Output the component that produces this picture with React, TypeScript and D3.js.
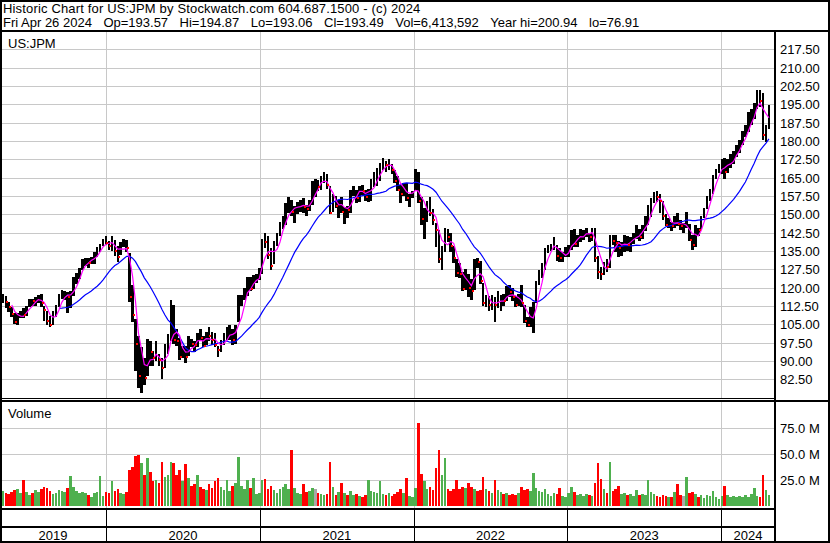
import React from "react";
import * as d3 from "d3";

const W = 830;
const H = 543;

const headerLine1 = "Historic Chart for US:JPM by Stockwatch.com 604.687.1500 - (c) 2024";
const headerFields = [
  "Fri Apr 26 2024",
  "Op=193.57",
  "Hi=194.87",
  "Lo=193.06",
  "Cl=193.49",
  "Vol=6,413,592",
  "Year hi=200.94",
  "lo=76.91",
];
const symbolLabel = "US:JPM";
const volumeLabel = "Volume";

const priceTicks = [82.5, 90, 97.5, 105, 112.5, 120, 127.5, 135, 142.5, 150, 157.5, 165, 172.5, 180, 187.5, 195, 202.5, 210, 217.5];
const volumeTicks = [25, 50, 75]; // millions of shares
const yearLabels = ["2019", "2020", "2021", "2022", "2023", "2024"];

// Weekly bars, first week ends Fri May 3 2019, last week ends Fri Apr 26 2024
const weeklyHigh = [
  // 2019
  117.5, 116.5, 114.0, 112.0, 109.5, 109.5, 110.5, 111.5, 112.5, 115.5, 115.5, 116.0, 117.0, 117.5, 112.5, 110.5, 108.5, 110.5, 112.8, 117.2, 119.0, 118.5, 118.0, 118.5, 124.5, 126.0, 128.0, 131.5, 132.0, 132.0, 132.5, 134.5, 136.5, 138.0, 140.0,
  // 2020
  141.1, 139.0, 141.0, 139.5, 137.0, 138.5, 140.0, 139.5, 134.0, 121.0, 107.0, 100.0, 95.5, 91.0, 99.0, 98.0, 94.0, 98.0, 93.0, 91.0, 97.0, 101.0, 115.0, 113.0, 103.0, 99.5, 96.0, 96.0, 100.0, 99.0, 98.0, 101.5, 103.0, 100.0, 102.0, 104.0, 102.0, 101.5, 96.0, 98.5, 101.5, 104.0, 104.5, 103.0, 104.5, 117.0, 117.0, 120.0, 124.5, 124.5, 125.0, 125.5,
  // 2021
  128.0, 140.0, 142.5, 141.0, 136.0, 139.0, 142.5, 147.0, 149.5, 154.5, 157.0, 156.0, 153.5, 155.0, 156.0, 156.5, 154.0, 156.0, 163.5, 164.5, 164.0, 165.5, 167.5, 166.5, 161.5, 158.5, 157.5, 156.0, 157.0, 153.0, 153.5, 160.0, 161.5, 160.0, 161.5, 162.0, 160.0, 160.5, 164.5, 167.5, 169.0, 171.0, 172.9, 172.0, 172.5, 170.5, 168.0, 165.5, 162.0, 163.0, 163.0, 158.5, 159.5,
  // 2022
  168.5, 167.5, 157.0, 152.5, 155.5, 157.0, 152.0, 146.5, 143.5, 137.0, 144.5, 144.0, 142.5, 137.0, 131.5, 130.0, 126.5, 127.5, 125.5, 123.5, 131.5, 132.0, 131.0, 122.0, 117.0, 116.5, 117.0, 116.0, 118.5, 117.0, 117.5, 120.5, 121.0, 120.0, 116.5, 117.5, 121.0, 113.0, 108.0, 112.0, 114.0, 122.5, 127.0, 130.0, 136.0, 137.5, 138.0, 140.5, 137.5, 136.0, 134.5, 136.5,
  // 2023
  137.5, 143.5, 144.0, 141.5, 144.0, 143.5, 144.5, 142.5, 144.5, 144.5, 133.0, 128.5, 130.5, 131.5, 141.5, 141.5, 141.5, 139.0, 138.5, 141.5, 141.0, 140.5, 142.5, 145.5, 144.0, 145.8, 149.5, 154.0, 156.5, 159.0, 159.5, 158.5, 155.5, 150.0, 148.5, 147.0, 149.5, 150.5, 147.5, 146.5, 151.0, 146.0, 141.5, 145.5, 144.5, 149.5, 152.5, 157.5, 160.5, 166.0, 168.5, 170.7,
  // 2024
  172.5, 173.0, 172.5, 174.5, 176.0, 178.5, 180.5, 184.0, 186.5, 192.0, 193.0, 195.5, 200.9, 200.7, 199.5, 186.5, 194.9,
];

const weeklyLow = [
  // 2019
  113.8, 111.5, 110.0, 108.0, 105.0, 104.5, 107.5, 107.5, 108.5, 112.0, 112.5, 112.5, 113.5, 112.0, 106.5, 104.5, 104.0, 104.5, 108.0, 112.0, 115.5, 115.0, 109.5, 111.5, 116.5, 121.5, 123.5, 127.0, 129.0, 128.0, 129.5, 129.5, 132.5, 134.5, 137.0,
  // 2020
  137.5, 135.5, 135.0, 133.0, 130.5, 133.5, 136.5, 134.5, 114.0, 106.0, 86.0, 79.0, 76.9, 80.0, 84.0, 88.0, 88.0, 90.0, 88.0, 82.5, 87.0, 93.0, 98.0, 97.0, 96.0, 90.5, 91.0, 89.0, 92.0, 95.5, 93.5, 95.5, 98.5, 95.5, 96.5, 98.0, 96.5, 95.5, 91.5, 93.5, 96.5, 98.5, 98.5, 96.5, 97.0, 106.0, 112.5, 115.0, 116.5, 118.5, 119.5, 122.0,
  // 2021
  123.0, 125.5, 136.0, 131.5, 127.0, 129.5, 137.0, 141.0, 144.0, 145.5, 150.5, 149.5, 146.5, 150.0, 151.0, 150.5, 149.5, 151.5, 154.0, 157.0, 159.5, 160.0, 163.0, 160.5, 150.0, 151.0, 152.5, 148.5, 150.5, 146.0, 148.5, 150.5, 157.5, 154.5, 155.0, 158.0, 155.5, 155.0, 155.5, 161.0, 161.5, 163.5, 168.0, 167.5, 168.0, 166.5, 163.0, 159.5, 154.5, 157.5, 155.5, 153.0, 156.5,
  // 2022
  159.5, 154.5, 145.5, 140.0, 147.0, 149.5, 145.5, 136.5, 130.0, 127.3, 134.5, 138.5, 134.5, 130.0, 124.5, 124.0, 118.5, 119.0, 116.0, 115.0, 119.0, 128.0, 121.5, 112.5, 112.0, 110.5, 111.0, 106.1, 111.5, 110.5, 112.5, 114.5, 116.0, 114.5, 112.0, 112.5, 112.0, 105.5, 104.0, 104.0, 101.3, 113.5, 121.0, 124.0, 127.0, 134.0, 135.0, 135.5, 131.0, 130.5, 130.5, 132.5,
  // 2023
  132.5, 135.5, 136.5, 136.5, 138.5, 139.5, 140.5, 138.5, 139.0, 130.5, 123.5, 123.0, 125.0, 126.5, 128.0, 137.5, 134.5, 132.5, 133.0, 134.5, 135.0, 134.5, 138.0, 140.0, 139.0, 140.0, 143.0, 145.5, 149.0, 154.5, 155.0, 150.5, 147.5, 145.0, 144.5, 143.0, 144.5, 145.0, 143.5, 142.5, 144.5, 139.0, 135.2, 136.5, 141.0, 143.5, 148.5, 152.0, 155.5, 158.5, 164.5, 167.0,
  // 2024
  166.5, 164.5, 167.0, 169.0, 170.5, 173.5, 175.0, 178.5, 181.5, 183.5, 186.5, 189.0, 193.0, 194.0, 180.5, 179.5, 185.0,
];

const weeklyClose = [
  // 2019
  116.5, 114.0, 112.2, 109.0, 106.0, 108.8, 109.5, 108.6, 111.8, 114.8, 114.5, 114.6, 116.4, 113.7, 110.9, 106.2, 104.6, 109.9, 112.0, 116.6, 117.4, 117.6, 116.0, 117.0, 122.9, 125.4, 127.4, 131.0, 131.7, 130.0, 131.7, 134.0, 135.3, 137.6, 139.7,
  // 2020
  138.3, 137.0, 138.5, 135.0, 132.4, 137.5, 138.0, 136.0, 116.0, 108.7, 97.0, 84.0, 90.0, 83.0, 95.0, 93.5, 91.0, 91.5, 90.5, 87.0, 94.0, 97.3, 113.5, 98.5, 98.0, 91.5, 93.5, 91.5, 98.5, 97.0, 96.6, 100.5, 99.5, 96.0, 100.5, 100.0, 98.5, 96.5, 94.5, 97.0, 100.5, 101.5, 103.0, 98.5, 103.5, 114.0, 115.0, 118.5, 124.0, 119.5, 123.5, 124.5,
  // 2021
  127.1, 139.0, 138.5, 133.5, 128.7, 138.0, 142.0, 145.0, 147.2, 152.0, 154.0, 151.0, 153.0, 153.5, 155.0, 153.0, 152.0, 153.8, 163.0, 163.0, 161.0, 164.3, 166.0, 162.0, 150.5, 157.0, 153.5, 154.5, 151.0, 152.0, 151.8, 159.5, 160.5, 156.5, 161.0, 159.5, 157.0, 159.0, 163.5, 164.0, 168.0, 168.5, 171.5, 170.0, 170.5, 168.0, 163.5, 160.0, 158.5, 162.0, 156.5, 157.5, 158.4,
  // 2022
  166.5, 155.5, 148.0, 150.5, 153.5, 150.5, 147.5, 143.5, 131.5, 135.0, 143.0, 140.5, 137.0, 132.0, 126.0, 125.5, 119.5, 125.0, 120.0, 118.5, 131.0, 130.5, 122.5, 113.5, 114.5, 113.0, 114.5, 113.0, 115.0, 115.4, 114.5, 119.5, 118.0, 116.0, 113.0, 116.5, 113.5, 106.5, 104.5, 108.0, 111.5, 122.0, 126.5, 128.5, 135.5, 136.5, 137.5, 138.5, 133.0, 132.0, 133.5, 134.1,
  // 2023
  137.0, 143.0, 138.0, 140.5, 142.0, 142.5, 143.0, 140.5, 144.0, 132.0, 126.5, 125.5, 130.3, 128.5, 140.5, 139.0, 138.2, 136.0, 136.5, 140.5, 137.5, 139.5, 141.0, 143.5, 140.5, 145.4, 148.0, 150.5, 156.0, 157.5, 157.0, 155.5, 149.5, 145.5, 146.5, 145.0, 148.5, 146.0, 145.0, 145.0, 146.0, 139.5, 137.5, 144.0, 143.5, 148.5, 151.5, 157.0, 159.5, 164.5, 167.5, 170.1,
  // 2024
  171.0, 167.5, 171.5, 172.5, 175.0, 177.5, 179.0, 183.0, 184.0, 190.0, 191.5, 193.5, 200.3, 196.5, 182.5, 185.5, 193.5,
];

// Peak daily volume within each week, millions
const weeklyVolume = [
  // 2019
  15, 13, 12, 14, 16, 17, 13, 25, 14, 11, 13, 16, 14, 17, 19, 18, 15, 12, 13, 16, 15, 14, 18, 29, 19, 15, 13, 14, 13, 11, 9, 13, 14, 29, 10,
  // 2020
  14, 13, 24, 15, 17, 13, 12, 14, 35, 38, 48, 49, 42, 30, 46, 33, 24, 25, 22, 43, 28, 30, 43, 42, 30, 35, 24, 41, 27, 20, 21, 30, 19, 17, 16, 21, 18, 24, 27, 19, 16, 25, 15, 20, 22, 47, 20, 17, 25, 18, 27, 12,
  // 2021
  13, 25, 26, 17, 20, 16, 13, 17, 19, 21, 17, 54, 18, 13, 12, 21, 14, 15, 18, 17, 13, 12, 11, 12, 43, 19, 11, 14, 22, 13, 11, 15, 11, 12, 10, 9, 11, 25, 15, 14, 13, 24, 12, 11, 13, 10, 12, 14, 17, 13, 27, 10, 9,
  // 2022
  18, 80, 31, 24, 17, 19, 16, 37, 54, 30, 46, 17, 15, 17, 25, 17, 19, 18, 22, 19, 17, 15, 16, 28, 17, 15, 13, 25, 16, 14, 12, 13, 11, 12, 11, 13, 19, 16, 17, 15, 32, 18, 15, 14, 17, 12, 10, 13, 12, 18, 10, 9,
  // 2023
  13, 19, 14, 11, 12, 10, 12, 11, 10, 22, 42, 26, 17, 13, 43, 15, 17, 20, 12, 13, 11, 12, 10, 16, 11, 12, 11, 25, 14, 12, 10, 9, 11, 10, 9, 9, 14, 21, 11, 10, 28, 13, 14, 12, 9, 11, 8, 11, 10, 15, 9, 7,
  // 2024
  10, 19.5, 11, 9, 10, 9, 10, 9, 11, 9, 12, 18, 10, 9, 30, 16, 11,
];

const FONT = "'Liberation Sans', Arial, sans-serif";

const plotRight = 775;
const priceTop = 32;
const priceBottom = 399;
const volTop = 402;
const volBottom = 508;

const UP = "#4fb04f";
const DOWN = "#ff0000";
const FLAT = "#a8a8a8";
const GRID = "#c8c8c8";

function sma(values: number[], n: number): (number | null)[] {
  return values.map((_, i) => (i < n - 1 ? null : (d3.mean(values.slice(i - n + 1, i + 1)) as number)));
}

export default function App() {
  const start = new Date(Date.UTC(2019, 3, 26));
  const end = new Date(Date.UTC(2024, 3, 26));
  const x = d3.scaleUtc().domain([start, end]).range([0.8, 769.8]);
  const y = d3.scaleLinear().domain([74.5, 224.5]).range([398.8, 32.2]);
  const yv = d3.scaleLinear().domain([0, 100]).range([506.3, 402.3]);

  const firstMid = new Date(Date.UTC(2019, 4, 1));
  const weeks = weeklyClose.map((c, i) => ({
    date: d3.utcDay.offset(firstMid, 7 * i),
    hi: weeklyHigh[i],
    lo: weeklyLow[i],
    cl: c,
    vol: weeklyVolume[i],
    dir: i === 0 ? 1 : Math.sign(c - weeklyClose[i - 1]),
  }));

  const fast = sma(weeklyClose, 4);
  const slow = sma(weeklyClose, 20);
  const maLine = (vals: (number | null)[]) =>
    d3
      .line<number | null>()
      .defined((v) => v !== null)
      .x((_, i) => x(weeks[i].date))
      .y((v) => y(v as number))(vals) || "";

  const yearBounds = yearLabels.slice(1).map((yr) => x(new Date(Date.UTC(+yr, 0, 1))));
  const edges = [0, ...yearBounds, plotRight];

  const snap = (v: number) => Math.round(v) + 0.5;

  return (
    <svg
      width={W}
      height={H}
      viewBox={`0 0 ${W} ${H}`}
      style={{ position: "absolute", left: 0, top: 0, display: "block", background: "#fff" }}
      fontFamily={FONT}
    >
      <defs>
        <clipPath id="priceClip">
          <rect x={1} y={priceTop} width={plotRight - 1} height={priceBottom - priceTop} />
        </clipPath>
        <clipPath id="volClip">
          <rect x={1} y={volTop} width={plotRight - 1} height={volBottom - volTop} />
        </clipPath>
      </defs>
      <rect x={0} y={0} width={W} height={H} fill="#fff" />

      {/* grid lines */}
      <g stroke={GRID} strokeWidth={1} shapeRendering="crispEdges">
        {priceTicks.map((t) => (
          <line key={"pg" + t} x1={1} x2={plotRight} y1={snap(y(t))} y2={snap(y(t))} />
        ))}
        {yearBounds.map((bx, i) => (
          <line key={"pv" + i} x1={snap(bx)} x2={snap(bx)} y1={priceTop} y2={priceBottom} />
        ))}
        {volumeTicks.map((t) => (
          <line key={"vg" + t} x1={1} x2={plotRight} y1={snap(yv(t))} y2={snap(yv(t))} />
        ))}
        {yearBounds.map((bx, i) => (
          <line key={"vv" + i} x1={snap(bx)} x2={snap(bx)} y1={volTop} y2={volBottom} />
        ))}
      </g>

      {/* volume bars */}
      <g clipPath="url(#volClip)" shapeRendering="crispEdges">
        {weeks.map((d, i) => (
          <rect
            key={"v" + i}
            x={x(d.date) - 1.3}
            width={2.6}
            y={yv(d.vol)}
            height={yv(0) - yv(d.vol)}
            fill={d.dir > 0 ? UP : d.dir < 0 ? DOWN : FLAT}
          />
        ))}
      </g>

      {/* price bars and averages */}
      <g clipPath="url(#priceClip)">
        <g shapeRendering="crispEdges">
          {weeks.map((d, i) => (
            <rect key={"b" + i} x={x(d.date) - 1.3} width={2.6} y={y(d.hi)} height={y(d.lo) - y(d.hi)} fill="#000" />
          ))}
        </g>
        <path d={maLine(slow)} fill="none" stroke="#0000ff" strokeWidth={1.2} />
        <path d={maLine(fast)} fill="none" stroke="#ff00ff" strokeWidth={1.2} />
        <g shapeRendering="crispEdges">
          {weeks
            .filter((d) => d.dir < 0)
            .map((d, i) => (
              <rect key={"c" + i} x={x(d.date) + 0.3} width={2} y={y(d.cl) - 1} height={2} fill={DOWN} />
            ))}
        </g>
      </g>

      {/* frame */}
      <g stroke="#000" fill="none" shapeRendering="crispEdges">
        <rect x={1} y={1} width={W - 2} height={H - 2} strokeWidth={2} />
        <line x1={0} x2={W} y1={31} y2={31} strokeWidth={2} />
        <line x1={plotRight} x2={plotRight} y1={31} y2={H} strokeWidth={2} />
        <line x1={0} x2={plotRight} y1={398.5} y2={398.5} strokeWidth={1} />
        <line x1={0} x2={W} y1={401} y2={401} strokeWidth={2} />
        <line x1={0} x2={plotRight} y1={509} y2={509} strokeWidth={2} />
        <line x1={0} x2={plotRight} y1={527} y2={527} strokeWidth={2} />
        {yearBounds.map((bx, i) => (
          <line key={"yb" + i} x1={snap(bx)} x2={snap(bx)} y1={509} y2={H} strokeWidth={1} />
        ))}
      </g>

      {/* header */}
      <g fontSize={13} fill="#000">
        <text x={3} y={13} letterSpacing={0.16}>
          {headerLine1}
        </text>
        <text x={3} y={27}>
          {headerFields.map((s, i) => (
            <tspan key={s} dx={i === 0 ? 0 : 11.5}>
              {s}
            </tspan>
          ))}
        </text>
        <text x={8} y={48}>
          {symbolLabel}
        </text>
        <text x={8} y={418}>
          {volumeLabel}
        </text>
      </g>

      {/* right axis labels */}
      <g fontSize={13} fill="#000">
        {priceTicks.map((t) => (
          <text key={"pt" + t} x={780} y={y(t) + 5}>
            {t.toFixed(2)}
          </text>
        ))}
        {volumeTicks.map((t) => (
          <text key={"vt" + t} x={780} y={yv(t) + 5}>
            {`${t.toFixed(1)} M`}
          </text>
        ))}
      </g>

      {/* year labels */}
      <g fontSize={13} fill="#000" textAnchor="middle">
        {yearLabels.map((yr, i) => (
          <text key={yr} x={(edges[i] + edges[i + 1]) / 2} y={540}>
            {yr}
          </text>
        ))}
      </g>
    </svg>
  );
}
